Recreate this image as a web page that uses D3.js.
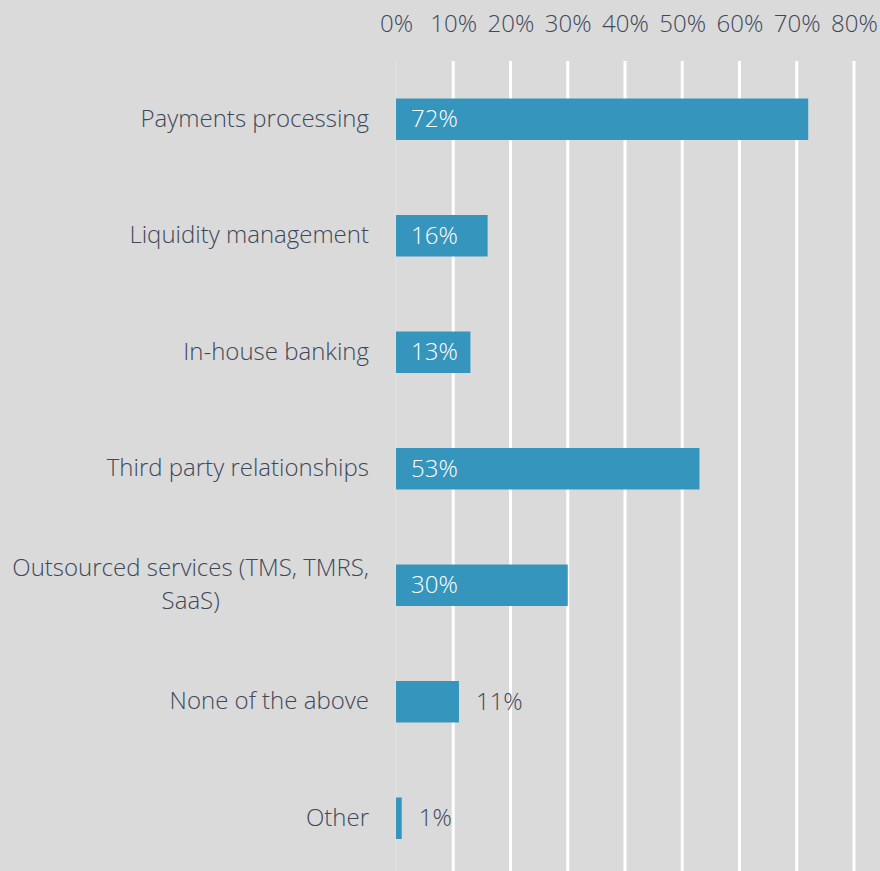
<!DOCTYPE html>
<html><head><meta charset="utf-8">
<script src="https://cdn.jsdelivr.net/npm/d3@7"></script>
<style>
html,body{margin:0;padding:0;background:#dadada;}
svg{display:block;font-family:"Open Sans",sans-serif;font-weight:300;}
</style></head>
<body><svg id="c" width="880" height="871"></svg>
<script>
const categories = ["Payments processing","Liquidity management","In-house banking","Third party relationships","Outsourced services (TMS, TMRS, SaaS)","None of the above","Other"];
const values = [72,16,13,53,30,11,1];
const tickValues = [0,10,20,30,40,50,60,70,80];

const svg = d3.select("#c");
const W = 880, H = 871;
svg.append("rect").attr("width",W).attr("height",H).attr("fill","#dadada");

const x = d3.scaleLinear().domain([0,80]).range([396,854]);
const y = d3.scaleBand().domain(categories).range([61,876.5]).paddingInner(0.644).paddingOuter(0.322);

const textCol = "#3e4859";
const fs = 24;

// gridlines
svg.append("g").selectAll("line").data(tickValues.filter(d=>d>0)).join("line")
  .attr("x1",d=>x(d)).attr("x2",d=>x(d)).attr("y1",61).attr("y2",H)
  .attr("stroke","#ffffff").attr("stroke-width",3);
svg.append("line").attr("x1",x(0)).attr("x2",x(0)).attr("y1",61).attr("y2",H)
  .attr("stroke","#e3e3e3").attr("stroke-width",1);

// top axis
const axis = d3.axisTop(x).tickValues(tickValues).tickFormat(d=>d+"%").tickSize(0);
const ag = svg.append("g").attr("transform","translate(0,35)").call(axis);
ag.select(".domain").remove();
ag.selectAll("text").attr("font-family","'Open Sans',sans-serif").attr("font-weight",300)
  .attr("font-size",fs).attr("fill",textCol).attr("dy",0);

// bars
svg.append("g").selectAll("rect").data(values).join("rect")
  .attr("x",x(0)).attr("y",(d,i)=>y(categories[i]))
  .attr("width",d=>x(d)-x(0)).attr("height",y.bandwidth())
  .attr("fill","#3595bc");

// value labels
svg.append("g").selectAll("text").data(values).join("text")
  .attr("x",d=> d>=13 ? x(0)+15 : x(d)+17)
  .attr("y",(d,i)=>y(categories[i])+y.bandwidth()/2)
  .attr("dy","0.33em")
  .attr("font-size",fs)
  .attr("fill",d=> d>=13 ? "#ffffff" : textCol)
  .text(d=>d+"%");

// category labels with wrapping
const maxW = 370, lh = 33, rightX = 369;
const lg = svg.append("g");
categories.forEach((c,i)=>{
  const cy = y(c)+y.bandwidth()/2;
  const t = lg.append("text").attr("font-size",fs).attr("fill",textCol);
  const words = c.split(" ");
  const lines = [];
  let cur = [];
  const probe = t.append("tspan");
  words.forEach(w=>{
    const test = cur.concat([w]).join(" ");
    probe.text(test);
    if (probe.node().getComputedTextLength() > maxW && cur.length){
      lines.push(cur.join(" ")); cur=[w];
    } else cur.push(w);
  });
  lines.push(cur.join(" "));
  probe.remove();
  let anchor="end", ax=rightX;
  if (lines.length>1){
    let mw=0;
    lines.forEach(l=>{const s=t.append("tspan").text(l); mw=Math.max(mw,s.node().getComputedTextLength()); s.remove();});
    anchor="middle"; ax=rightX-mw/2;
  }
  t.attr("text-anchor",anchor);
  lines.forEach((l,k)=>{
    t.append("tspan").attr("x",ax).attr("y",cy+(k-(lines.length-1)/2)*lh).attr("dy","0.31em").text(l);
  });
});
</script></body></html>
